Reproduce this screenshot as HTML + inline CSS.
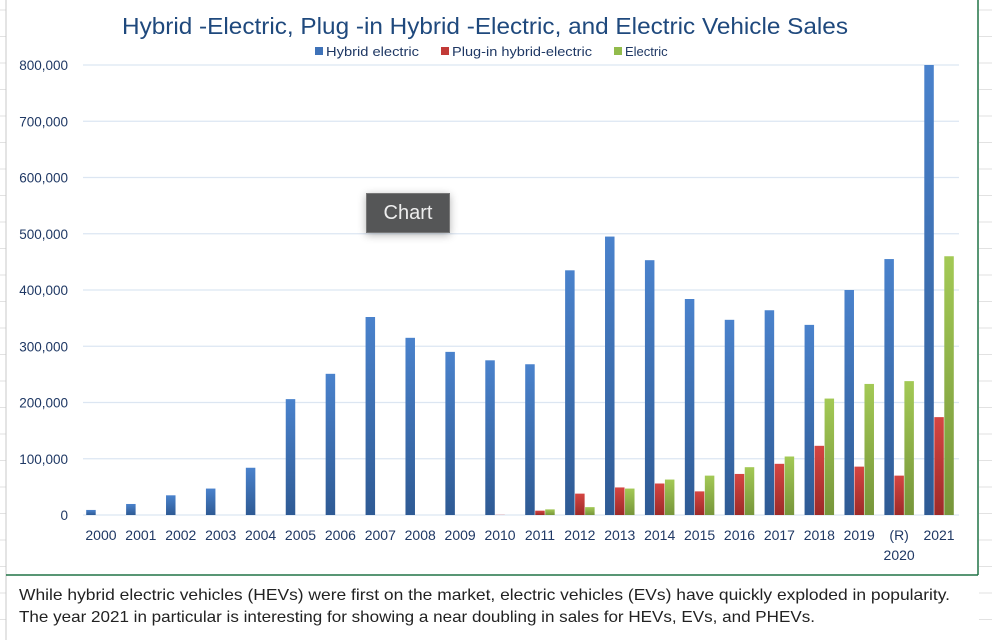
<!DOCTYPE html>
<html><head><meta charset="utf-8"><style>
body{margin:0;width:992px;height:640px;overflow:hidden;background:#fff;font-family:"Liberation Sans",sans-serif;position:relative}
.t{font-family:"Liberation Sans",sans-serif}
</style></head><body>
<svg id="c" width="992" height="640" style="position:absolute;left:0;top:0">
<defs>
<linearGradient id="gb" x1="0" y1="0" x2="0" y2="1"><stop offset="0" stop-color="#4a82cc"/><stop offset="1" stop-color="#2e5a94"/></linearGradient>
<linearGradient id="gr" x1="0" y1="0" x2="0" y2="1"><stop offset="0" stop-color="#d54542"/><stop offset="1" stop-color="#9c2a28"/></linearGradient>
<linearGradient id="gg" x1="0" y1="0" x2="0" y2="1"><stop offset="0" stop-color="#a3c955"/><stop offset="1" stop-color="#76953a"/></linearGradient>
</defs>
<g id="sheet"></g>
<line x1="6" y1="0" x2="6" y2="640" stroke="#c8c8c8"/>
<line x1="978" y1="0" x2="978" y2="575" stroke="#217346" stroke-width="1.5"/>
<line x1="6" y1="575" x2="978" y2="575" stroke="#217346" stroke-width="1.5"/>
<text x="485" y="34" text-anchor="middle" font-size="23" textLength="726" lengthAdjust="spacingAndGlyphs" fill="#1f497d" class="t">Hybrid -Electric, Plug -in Hybrid -Electric, and Electric Vehicle Sales</text>
<g>
<g><rect x="315" y="47" width="8" height="8" fill="#3f72b8"/><text x="326" y="56" font-size="13" textLength="93" lengthAdjust="spacingAndGlyphs" fill="#1f3864" class="t">Hybrid electric</text></g>
<g><rect x="441" y="47" width="8" height="8" fill="#c23a37"/><text x="452" y="56" font-size="13" textLength="140" lengthAdjust="spacingAndGlyphs" fill="#1f3864" class="t">Plug-in hybrid-electric</text></g>
<g><rect x="614" y="47" width="8" height="8" fill="#92bb4c"/><text x="625" y="56" font-size="13" fill="#1f3864" class="t">Electric</text></g>
</g>
<g id="grid"></g><g id="bars"></g><g id="xl"></g>
<text x="19" y="600" font-size="16" textLength="931" lengthAdjust="spacingAndGlyphs" fill="#222" class="t">While hybrid electric vehicles (HEVs) were first on the market, electric vehicles (EVs) have quickly exploded in popularity.</text>
<text x="19" y="622" font-size="16" textLength="796" lengthAdjust="spacingAndGlyphs" fill="#222" class="t">The year 2021 in particular is interesting for showing a near doubling in sales for HEVs, EVs, and PHEVs.</text>
</svg>
<div style="position:absolute;left:366px;top:193px;width:82px;height:38px;background:#555657;border:1px solid #777;box-shadow:0 2px 8px rgba(0,0,0,.3);color:#eee;font-size:20px;line-height:38px;text-align:center">Chart</div>
<script>
const years=["2000","2001","2002","2003","2004","2005","2006","2007","2008","2009","2010","2011","2012","2013","2014","2015","2016","2017","2018","2019","(R)|2020","2021"];
const hybrid=[9000,19600,35000,47000,84000,206000,251000,352000,315000,290000,275000,268000,435000,495000,453000,384000,347000,364000,338000,400000,455000,800000];
const phev=[0,0,0,0,0,0,0,0,0,0,300,7700,38000,49000,56000,42000,73000,91000,123000,86000,70000,174000];
const ev=[0,0,0,0,0,0,0,0,0,0,0,10000,14000,47000,63000,70000,85000,104000,207000,233000,238000,460000];
const yTicks=[0,100000,200000,300000,400000,500000,600000,700000,800000];
const NS="http://www.w3.org/2000/svg";
const L=81,R=959,Y0=515,Y1=65,MAX=800000;
const cw=(R-L)/years.length;
const y=v=>Y0-(Math.min(v,MAX)/MAX)*(Y0-Y1);
const xc=i=>L+cw*(i+0.5);
function mk(t,a,p){const e=document.createElementNS(NS,t);for(const k in a)e.setAttribute(k,a[k]);p.appendChild(e);return e;}
const sh=document.getElementById('sheet');
for(let yy=10;yy<640;yy+=26.5){mk('line',{x1:0,y1:yy,x2:6,y2:yy,stroke:'#e2e2e2'},sh);mk('line',{x1:979,y1:yy,x2:992,y2:yy,stroke:'#e2e2e2'},sh);}
const g=document.getElementById('grid');
yTicks.forEach(v=>{
 const ln=mk('line',{x1:L+2,x2:R,y1:y(v),y2:y(v),stroke:'#dce6f2','stroke-width':1.2},g);
 
 
 const t=mk('text',{x:68,y:y(v)+5,'text-anchor':'end','font-size':13.5,fill:'#1f3864',class:'t'},g);
 t.textContent=v.toLocaleString('en-US');
 
 
});
const b=document.getElementById('bars');
const bw=9.5;
[[hybrid,-10,'url(#gb)','bar-hybrid'],[phev,0,'url(#gr)','bar-phev'],[ev,10,'url(#gg)','bar-electric']].forEach(([arr,off,f,n])=>{
 arr.forEach((v,i)=>{
  if(v<=0)return;
  const r=mk('rect',{x:xc(i)+off-bw/2,y:y(v),width:bw,height:Y0-y(v),fill:f},b);
  
  
 });
});
const xl=document.getElementById('xl');
years.forEach((s,i)=>{
 s.split('|').forEach((p,j)=>{
  const t=mk('text',{x:xc(i),y:540+j*20,'text-anchor':'middle','font-size':14,fill:'#1f3864',class:'t'},xl);
  t.textContent=p;
  
  
 });
});
</script>
</body></html>
